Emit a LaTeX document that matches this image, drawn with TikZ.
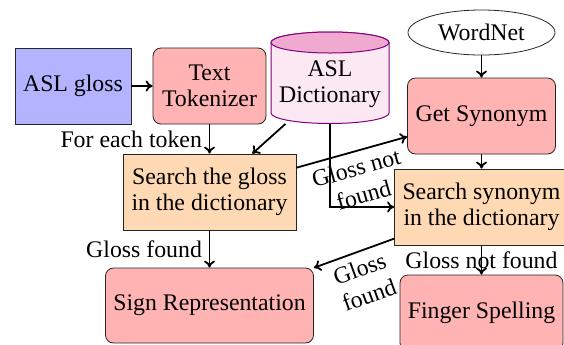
\documentclass[tikz,border=0pt]{standalone}
\usepackage{fontspec}
\setmainfont{Liberation Serif}
\usetikzlibrary{arrows.meta,shapes.geometric}
\definecolor{glossblue}{RGB}{179,179,255}
\definecolor{procred}{RGB}{255,179,179}
\definecolor{searchorange}{RGB}{255,217,179}
\definecolor{dbbody}{RGB}{252,232,242}
\definecolor{dbtop}{RGB}{240,170,208}
\definecolor{dbedge}{RGB}{128,0,128}

\begin{document}
\begin{tikzpicture}[x=0.5pt,y=-0.5pt,
  every node/.style={font=\fontsize{11.9}{13}\selectfont},
  base/.style={draw=black!85, line width=0.4pt, inner sep=1pt, align=center, minimum height=38pt},
  inputbox/.style={base, fill=glossblue},
  procbox/.style={base, fill=procred, rounded corners=4pt},
  searchbox/.style={base, fill=searchorange},
  flow/.style={-{To[length=3.5pt,width=5.5pt]}, line width=0.9pt},
  edgelabel/.style={align=center},
  slopelabel/.style={align=center, sloped, below, inner sep=3.5pt, font=\fontsize{11.9}{14}\selectfont}
]
\useasboundingbox (0,0) rectangle (564,344);
\clip (0,0) rectangle (564,344);

% ASL dictionary drawn as a cylinder
\path[fill=dbbody, draw=dbedge, line width=0.5pt]
  (271,42.5) -- (271,113) arc[start angle=180, end angle=360, x radius=29.5pt, y radius=5.25pt]
  -- (389,42.5) arc[start angle=0, end angle=180, x radius=29.5pt, y radius=5.25pt] -- cycle;
\path[fill=dbtop, draw=dbedge, line width=0.5pt]
  (330,42.5) ellipse[x radius=29.5pt, y radius=5.25pt];

% Nodes
\node[inputbox, minimum width=58pt] (gloss) at (73,86) {ASL gloss};
\node[procbox, minimum width=56.5pt] (tok) at (209.5,86) {Text\\Tokenizer};
\node[align=center, inner sep=0pt, minimum width=59pt, minimum height=39.5pt] (dict) at (330,84) {ASL\\Dictionary};
\node[draw=black!85, line width=0.4pt, ellipse, minimum width=73.5pt, minimum height=22.5pt, inner sep=0pt] (wn) at (481.5,32.5) {WordNet};
\node[procbox, minimum width=74pt] (syn) at (481.5,116) {Get Synonym};
\node[searchbox, minimum width=86.5pt] (sgloss) at (209.5,192) {Search the gloss\\in the dictionary};
\node[searchbox, minimum width=87pt] (ssyn) at (481.5,207) {Search synonym\\in the dictionary};
\node[procbox, minimum width=104pt, minimum height=37.5pt] (sign) at (209.5,305.5) {Sign Representation};
\node[procbox, minimum width=81.5pt] (finger) at (481.5,313) {Finger Spelling};

% Connectors
\draw[flow] (gloss) -- (tok);
\draw[flow] (tok) -- node[left, edgelabel] {For each token} (sgloss);
\draw[flow] (dict) -- (sgloss);
\draw[flow] (wn) -- (syn);
\draw[flow] (sgloss) -- node[slopelabel] {Gloss not\\found} (syn);
\draw[flow] (dict.south) |- (ssyn.west);
\draw[flow] (syn) -- (ssyn);
\draw[flow] (sgloss) -- node[left, edgelabel] {Gloss found} (sign);
\draw[flow] (ssyn) -- node[slopelabel] {Gloss\\found} (sign);
\draw[flow] (ssyn) -- node[edgelabel] {Gloss not found} (finger);
\end{tikzpicture}
\end{document}
